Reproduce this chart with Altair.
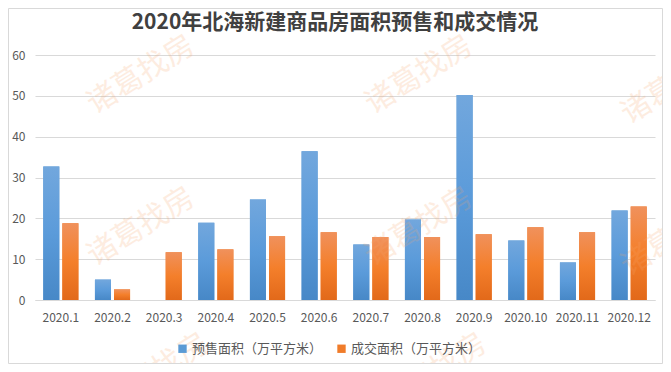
import altair as alt
import pandas as pd

months = ["2020.1", "2020.2", "2020.3", "2020.4", "2020.5", "2020.6",
          "2020.7", "2020.8", "2020.9", "2020.10", "2020.11", "2020.12"]
presale = [32.7, 5.0, 0.0, 18.9, 24.6, 36.4, 13.6, 19.7, 50.2, 14.6, 9.2, 21.9]
deal = [18.8, 2.6, 11.7, 12.4, 15.6, 16.6, 15.4, 15.4, 16.1, 17.8, 16.6, 22.9]
series = ["预售面积（万平方米）", "成交面积（万平方米）"]
legend_colors = ["#5B9BD5", "#F07C2A"]
title_text = "2020年北海新建商品房面积预售和成交情况"
watermark = "诸葛找房"

rows = []
for m, a, b in zip(months, presale, deal):
    rows.append({"month": m, "series": series[0], "value": a})
    rows.append({"month": m, "series": series[1], "value": b})
df = pd.DataFrame(rows)

FONT = "Noto Sans CJK SC"

x_enc = alt.X("month:N", sort=months,
              scale=alt.Scale(paddingInner=0.32, paddingOuter=0.16),
              axis=alt.Axis(title=None, labelAngle=0, ticks=False,
                            domainColor="#D9D9D9", labelColor="#595959",
                            labelFontSize=12, labelPadding=12, grid=False))
xo_enc = alt.XOffset("series:N", sort=series,
                     scale=alt.Scale(domain=series, paddingInner=0.16, paddingOuter=0))
y_enc = alt.Y("value:Q", scale=alt.Scale(domain=[0, 60]),
              axis=alt.Axis(title=None, values=[0, 10, 20, 30, 40, 50, 60],
                            domain=False, ticks=False, gridColor="#D9D9D9",
                            labelColor="#595959", labelFontSize=12, labelPadding=10))

base = alt.Chart(df).mark_bar().encode(
    x=x_enc, xOffset=xo_enc, y=y_enc,
    color=alt.Color("series:N", sort=series,
                    scale=alt.Scale(domain=series, range=legend_colors),
                    legend=alt.Legend(title=None, orient="none", legendX=141, legendY=287,
                                      direction="horizontal", symbolType="square",
                                      symbolSize=70, labelFontSize=13,
                                      labelColor="#595959", columnPadding=12,
                                      labelOffset=3, labelFont=FONT))
)

blue_grad = alt.Gradient(gradient="linear",
                         stops=[alt.GradientStop(color="#72A7DD", offset=0),
                                alt.GradientStop(color="#5B9BDA", offset=0.5),
                                alt.GradientStop(color="#4788C7", offset=1)],
                         x1=0, x2=0, y1=0, y2=1)
orange_grad = alt.Gradient(gradient="linear",
                           stops=[alt.GradientStop(color="#F0915C", offset=0),
                                  alt.GradientStop(color="#F47F2B", offset=0.5),
                                  alt.GradientStop(color="#E2691A", offset=1)],
                           x1=0, x2=0, y1=0, y2=1)

blue = alt.Chart(df).transform_filter(alt.datum.series == series[0]).mark_bar(
    color=blue_grad).encode(x=x_enc, xOffset=xo_enc, y=y_enc)
orange = alt.Chart(df).transform_filter(alt.datum.series == series[1]).mark_bar(
    color=orange_grad).encode(x=x_enc, xOffset=xo_enc, y=y_enc)

wm_positions = [(106, 20), (106, 172), (384, 20), (384, 172), (640, 30), (640, 182),
                (120, 318), (398, 318)]
wm_layers = [
    alt.Chart(pd.DataFrame({"t": [watermark]})).mark_text(
        fontSize=30, color="#F6A56B", opacity=0.2, angle=328, font=FONT,
        align="center", baseline="middle").encode(
        x=alt.value(px), y=alt.value(py), text="t:N")
    for px, py in wm_positions
]

title_layer = alt.Chart(pd.DataFrame({"t": [title_text]})).mark_text(
    fontSize=21, fontWeight="bold", color="#404040", font=FONT,
    align="center", baseline="middle").encode(
    x=alt.value(300), y=alt.value(-32), text="t:N")

border = alt.Chart(pd.DataFrame({"t": [0]})).mark_rect(
    fill="transparent", stroke="#D9D9D9", strokeWidth=1).encode(
    x=alt.value(-26.5), x2=alt.value(627.5), y=alt.value(-46.5), y2=alt.value(308.5))

chart = alt.layer(base, blue, orange, *wm_layers, title_layer, border).properties(
    width=620, height=245,
    autosize=alt.AutoSizeParams(type="none"),
    padding={"left": 27, "top": 47, "right": 8, "bottom": 64},
).configure(font=FONT).configure_view(stroke=None).configure_legend(
    labelFont=FONT)

chart.save("out.html", embed_options={"renderer": "svg", "actions": False})
